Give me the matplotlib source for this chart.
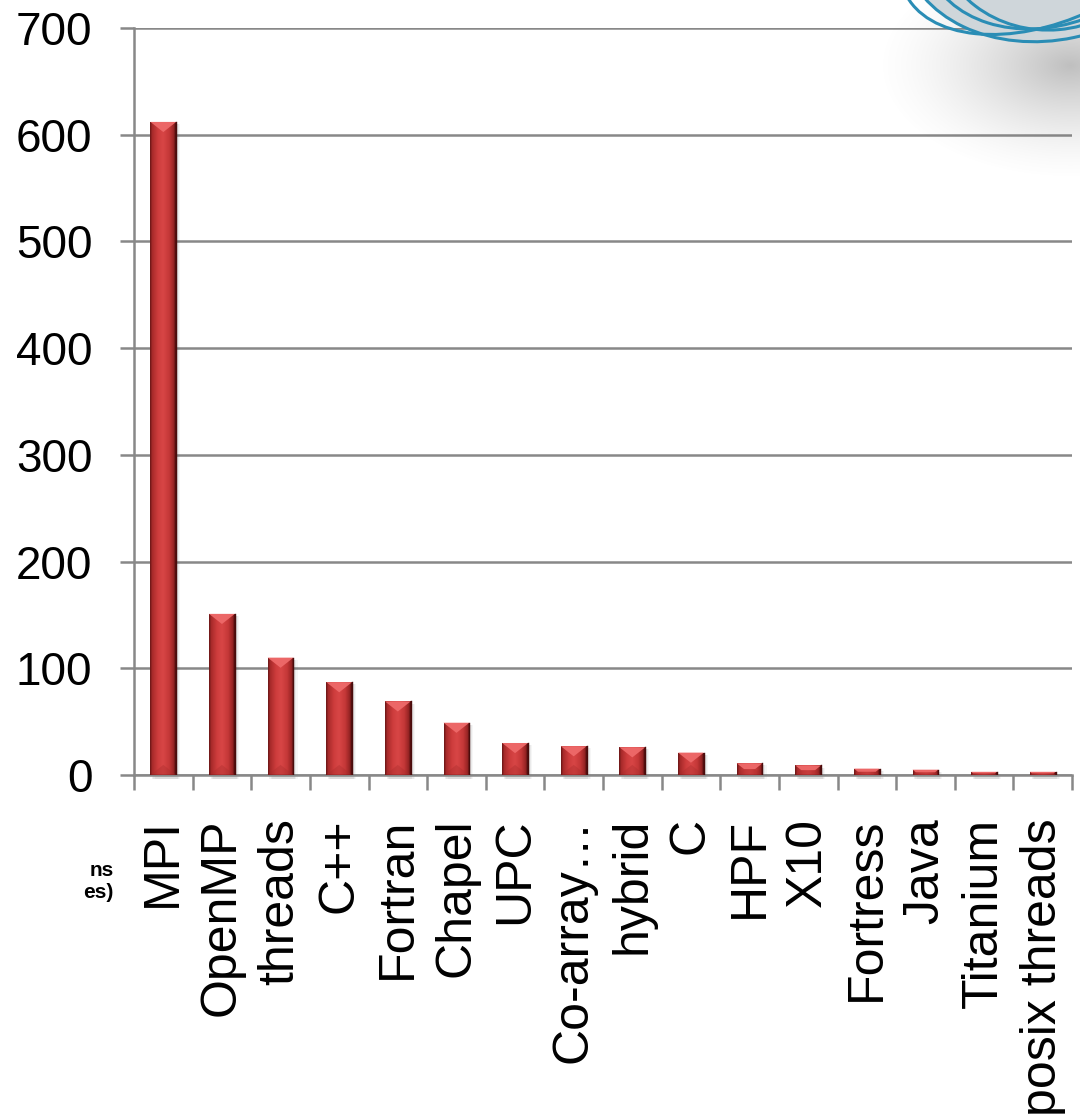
import numpy as np
import matplotlib.pyplot as plt
import matplotlib.patches as patches
from matplotlib.colors import LinearSegmentedColormap

plt.rcParams['font.family'] = ['Liberation Sans', 'DejaVu Sans']

# languages and how often they were named
languages = ['MPI', 'OpenMP', 'threads', 'C++', 'Fortran', 'Chapel', 'UPC',
             'Co-array…', 'hybrid', 'C', 'HPF', 'X10', 'Fortress', 'Java',
             'Titanium', 'posix threads']
counts = [612, 151, 110, 87, 69, 49, 30, 27, 26, 21, 11, 9, 6, 5, 3, 3]
y_ticks = [0, 100, 200, 300, 400, 500, 600, 700]

GRID = '#888888'
bar_cmap = LinearSegmentedColormap.from_list('bar', [
    (0.0, '#6a1616'), (0.08, '#a82a2a'), (0.3, '#cd3c3c'), (0.5, '#d84646'),
    (0.75, '#c43737'), (0.92, '#962424'), (1.0, '#4a0c0c')])
grad = np.linspace(0, 1, 64).reshape(1, -1)


def bevel_bar(ax, x, h, w=0.44, bevel=9.5):
    x0, x1 = x - w / 2, x + w / 2
    # soft drop shadow to the right
    for k, a in [(0.07, 0.05), (0.05, 0.07), (0.03, 0.09)]:
        ax.add_patch(patches.Rectangle((x0 + k, -4), w, h + 2, color='#555555', alpha=a,
                                       lw=0, zorder=2, clip_on=False))
    body = patches.Rectangle((x0, 0), w, h, fc='none', lw=0, zorder=3)
    ax.add_patch(body)
    im = ax.imshow(grad, extent=[x0, x1, 0, h], aspect='auto', cmap=bar_cmap,
                   zorder=3, interpolation='bilinear')
    im.set_clip_path(body)
    d = min(bevel, h / 2)
    ix = (w / 2) * d / bevel
    top = [(x0, h), (x1, h), (x1 - ix, h - d), (x0 + ix, h - d)]
    bot = [(x0, 0), (x1, 0), (x1 - ix, d), (x0 + ix, d)]
    ax.add_patch(patches.Polygon(top, closed=True, fc='#ee6a6a', lw=0, alpha=0.95, zorder=4))
    ax.add_patch(patches.Polygon(bot, closed=True, fc='#a82c2c', lw=0, alpha=0.35, zorder=4))
    ax.plot([x1, x1], [0, h], color='#4a0c0c', lw=1.0, zorder=5)
    ax.plot([x0, x1], [0.4, 0.4], color='#5a1010', lw=1.0, zorder=5)


fig = plt.figure(figsize=(10.8, 11.15), dpi=100)
ax = fig.add_axes([134 / 1080, 1 - 775 / 1115, (1072 - 134) / 1080, (775 - 28) / 1115])

xs = np.arange(len(languages))
for x, c in zip(xs, counts):
    bevel_bar(ax, x, c)

ax.set_xlim(-0.5, len(languages) - 0.5)
ax.set_ylim(0, 700)
ax.set_yticks(y_ticks)
ax.set_yticklabels([str(v) for v in y_ticks], fontsize=33)
ax.yaxis.grid(True, color=GRID, lw=1.8, zorder=0)
ax.set_axisbelow(True)
ax.tick_params(axis='y', length=10, width=1.8, color=GRID, pad=20)

ax.set_xticks(xs)
ax.set_xticklabels(languages, rotation=90, fontsize=36, va='top', ha='center')
ax.set_xticks(np.arange(-0.5, len(languages), 1), minor=True)
ax.tick_params(axis='x', which='major', length=0, pad=31)
ax.tick_params(axis='x', which='minor', length=11, width=1.8, color=GRID)

for s in ['top', 'right']:
    ax.spines[s].set_visible(False)
for s in ['left', 'bottom']:
    ax.spines[s].set_color(GRID)
    ax.spines[s].set_linewidth(1.8)

# leftover pieces of a side caption
fig.text(114 / 1080, 1 - 870 / 1115, 'ns', fontsize=15, fontweight='bold', ha='right', va='center')
fig.text(114 / 1080, 1 - 893 / 1115, 'es)', fontsize=15, fontweight='bold', ha='right', va='center')

# globe logo in the top right corner
ov = fig.add_axes([0, 0, 1, 1], zorder=5)
ov.patch.set_alpha(0)
ov.axis('off')
yy, xx = np.mgrid[0:220, 840:1080]
r = np.hypot((xx - 1070) / 195.0, (yy - 65) / 115.0)
haze = np.zeros(yy.shape + (4,))
haze[..., :3] = 0.5
haze[..., 3] = np.clip(1 - r, 0, 1) ** 1.5 * 0.5
ov.imshow(haze, extent=[840, 1080, 220, 0], interpolation='bilinear', aspect='auto')
globe = patches.Ellipse((1050, -75), 300, 230, angle=-12, fc='#cfd6da', ec='none')
ov.add_patch(globe)
for wdt, hgt, ang in [(300, 230, -12), (260, 200, -20), (230, 210, -5), (320, 190, -25)]:
    ov.add_patch(patches.Ellipse((1050, -75), wdt, hgt, angle=ang, fc='none',
                                 ec='#2a8db5', lw=2.2))
ov.set_xlim(0, 1080)
ov.set_ylim(1115, 0)

fig.savefig('out.png', dpi=100)
